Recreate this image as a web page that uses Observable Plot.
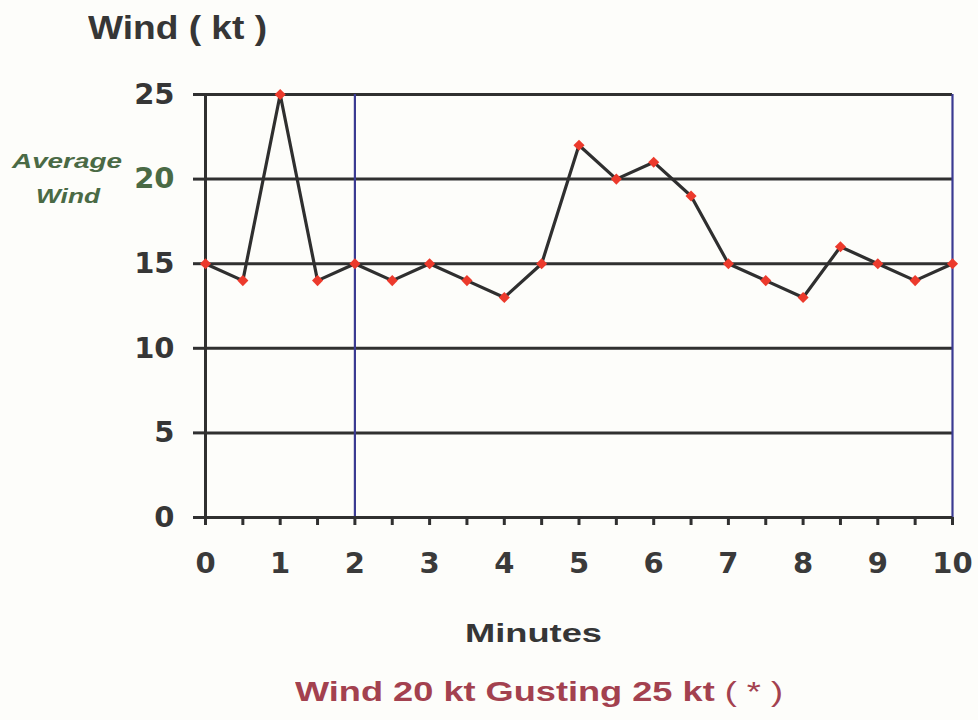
<!DOCTYPE html>
<html>
<head>
<meta charset="utf-8">
<script src="https://cdn.jsdelivr.net/npm/d3@7"></script>
<script src="https://cdn.jsdelivr.net/npm/@observablehq/plot@0.6"></script>
<style>
  html, body { margin: 0; padding: 0; background: #fdfdfa; }
  #wrap { position: relative; width: 978px; height: 720px; font-family: "Liberation Sans", Arial, sans-serif; }
  .lbl { position: absolute; font-weight: bold; white-space: nowrap; line-height: 1; transform-origin: 0 0; }
</style>
</head>
<body>
<div id="wrap">
  <div class="lbl" data-w="179" style="left:88px; top:11px; font-size:33px; color:#363636;">Wind ( kt )</div>
  <div class="lbl" data-w="110" style="left:12px; top:150px; font-size:21px; color:#4a6a45; font-style:italic;">Average</div>
  <div class="lbl" data-w="64" style="left:36px; top:185px; font-size:21px; color:#4a6a45; font-style:italic;">Wind</div>
  <div class="lbl" data-w="137" style="left:465px; top:620px; font-size:26px; color:#363636;">Minutes</div>
  <div class="lbl" data-w="488" style="left:295px; top:679px; font-size:27px; color:#a3414f;">Wind 20 kt Gusting 25 kt <span style="font-weight:normal">( * )</span></div>
</div>
<script>
// Data: wind speed (kt) sampled every half minute
const minutes = [0, 0.5, 1, 1.5, 2, 2.5, 3, 3.5, 4, 4.5, 5, 5.5, 6, 6.5, 7, 7.5, 8, 8.5, 9, 9.5, 10];
const windKt  = [15, 14, 25, 14, 15, 14, 15, 14, 13, 15, 22, 20, 21, 19, 15, 14, 13, 16, 15, 14, 15];

const yTicks = [0, 5, 10, 15, 20, 25];
const xLabelTicks = [0, 1, 2, 3, 4, 5, 6, 7, 8, 9, 10];
const xMinorTicks = [0, 0.5, 1, 1.5, 2, 2.5, 3, 3.5, 4, 4.5, 5, 5.5, 6, 6.5, 7, 7.5, 8, 8.5, 9, 9.5, 10];
const averageWind = 20;
const markerMinutes = [2, 10];

const data = minutes.map((m, i) => ({minute: m, wind: windKt[i]}));

const tickFont = "'DejaVu Sans', 'Liberation Sans', sans-serif";

const chart = Plot.plot({
  width: 978,
  height: 720,
  marginLeft: 205,
  marginRight: 26,
  marginTop: 94,
  marginBottom: 203,
  style: {background: "transparent", fontFamily: tickFont, overflow: "visible"},
  x: {domain: [0, 10]},
  y: {domain: [0, 25]},
  marks: [
    Plot.ruleY(yTicks, {x1: 0, x2: 10, stroke: "#303030", strokeWidth: 3}),
    Plot.ruleX([0], {y1: 0, y2: 25, stroke: "#303030", strokeWidth: 3}),
    Plot.ruleX(markerMinutes, {y1: 0, y2: 25, stroke: "#3b3b92", strokeWidth: 2.2}),
    Plot.ruleY([0], {x1: 0, x2: 10, stroke: "#303030", strokeWidth: 3}),
    Plot.axisY({
      ticks: yTicks, tickSize: 12, tickPadding: 19, strokeWidth: 3, stroke: "#303030",
      fontSize: 29, fontWeight: "bold", label: null,
      fill: (d) => d === averageWind ? "#4a6a45" : "#363636"
    }),
    Plot.axisX({ticks: xMinorTicks, tickSize: 8, tickFormat: () => "", strokeWidth: 3, stroke: "#303030", label: null}),
    Plot.axisX({ticks: xLabelTicks, tickSize: 0, tickPadding: 35, fontSize: 29, fontWeight: "bold", fill: "#3a3a3a", label: null}),
    Plot.line(data, {x: "minute", y: "wind", stroke: "#2f2f2f", strokeWidth: 3.2}),
    Plot.dot(data, {x: "minute", y: "wind", symbol: "diamond2", fill: "#ec3a2c", stroke: "none", r: 5})
  ]
});

const wrap = document.getElementById("wrap");
chart.style.position = "absolute";
chart.style.left = "0";
chart.style.top = "0";
wrap.insertBefore(chart, wrap.firstChild);

// stretch labels horizontally to match the reference's wide lettering
document.querySelectorAll(".lbl").forEach((el) => {
  const w = el.getBoundingClientRect().width;
  const target = +el.dataset.w;
  if (w > 0) el.style.transform = `scaleX(${target / w})`;
});
</script>
</body>
</html>
